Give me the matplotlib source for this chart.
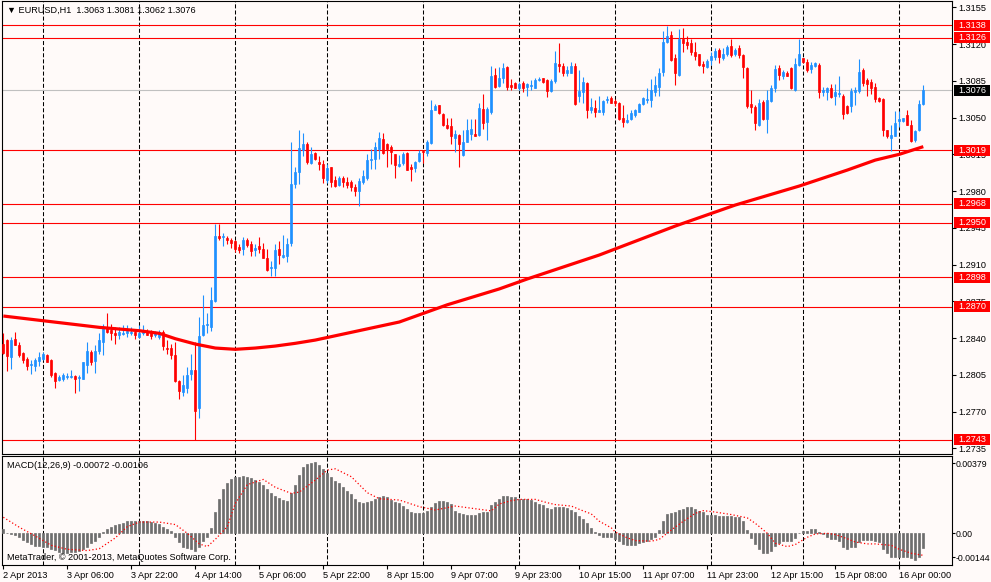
import numpy as np
import matplotlib
matplotlib.use("Agg")
import matplotlib.pyplot as plt
from matplotlib.patches import Rectangle
from matplotlib.transforms import blended_transform_factory

# EURUSD H1 candles, bar 0 = 2 Apr 14:00
opens = [
    1.2834, 1.2838, 1.2822, 1.2839, 1.2833, 1.2826, 1.2820, 1.2814, 1.2813, 1.2818,
    1.2820, 1.2824, 1.2819, 1.2807, 1.2800, 1.2801, 1.2803, 1.2803, 1.2804, 1.2802,
    1.2801, 1.2814, 1.2827, 1.2818, 1.2828, 1.2836, 1.2850, 1.2848, 1.2845, 1.2843,
    1.2844, 1.2845, 1.2845, 1.2846, 1.2841, 1.2845, 1.2846, 1.2846, 1.2843, 1.2841,
    1.2846, 1.2831, 1.2831, 1.2824, 1.2799, 1.2789, 1.2792, 1.2806, 1.2810, 1.2773,
    1.2843, 1.2852, 1.2851, 1.2875, 1.2937, 1.2936, 1.2935, 1.2933, 1.2932, 1.2927,
    1.2925, 1.2933, 1.2930, 1.2924, 1.2928, 1.2925, 1.2916, 1.2907, 1.2907, 1.2925,
    1.2917, 1.2918, 1.2931, 1.2987, 1.2998, 1.3019, 1.3025, 1.3007, 1.3016, 1.3008,
    1.3006, 1.2991, 1.3003, 1.2991, 1.2986, 1.2992, 1.2989, 1.2989, 1.2984, 1.2980,
    1.2989, 1.2992, 1.3010, 1.3011, 1.3020, 1.3030, 1.3025, 1.3022, 1.3015, 1.3004,
    1.3007, 1.3016, 1.3003, 1.3002, 1.3009, 1.3018, 1.3016, 1.3026, 1.3057, 1.3062,
    1.3053, 1.3043, 1.3042, 1.3031, 1.3033, 1.3014, 1.3027, 1.3034, 1.3034, 1.3033,
    1.3058, 1.3046, 1.3055, 1.3091, 1.3080, 1.3088, 1.3098, 1.3081, 1.3083, 1.3078,
    1.3083, 1.3079, 1.3080, 1.3078, 1.3086, 1.3088, 1.3086, 1.3075, 1.3085, 1.3101,
    1.3099, 1.3092, 1.3092, 1.3099, 1.3071, 1.3074, 1.3083, 1.3057, 1.3059, 1.3055,
    1.3055, 1.3067, 1.3069, 1.3066, 1.3064, 1.3050, 1.3046, 1.3049, 1.3052, 1.3055,
    1.3063, 1.3067, 1.3067, 1.3074, 1.3079, 1.3093, 1.3122, 1.3129, 1.3107, 1.3091,
    1.3125, 1.3122, 1.3121, 1.3112, 1.3111, 1.3101, 1.3098, 1.3105, 1.3108, 1.3114,
    1.3107, 1.3111, 1.3118, 1.3111, 1.3116, 1.3110, 1.3097, 1.3063, 1.3060, 1.3043,
    1.3065, 1.3049, 1.3066, 1.3078, 1.3097, 1.3090, 1.3092, 1.3097, 1.3076, 1.3100,
    1.3107, 1.3103, 1.3096, 1.3099, 1.3100, 1.3074, 1.3074, 1.3078, 1.3071, 1.3072,
    1.3071, 1.3061, 1.3061, 1.3074, 1.3075, 1.3095, 1.3086, 1.3084, 1.3079, 1.3069,
    1.3068, 1.3038, 1.3031, 1.3032, 1.3047, 1.3047, 1.3052, 1.3043, 1.3029, 1.3038,
    1.3063,
]
highs = [
    1.2845, 1.2839, 1.2841, 1.2846, 1.2836, 1.2827, 1.2822, 1.2819, 1.2821, 1.2827,
    1.2827, 1.2825, 1.2820, 1.2808, 1.2805, 1.2807, 1.2807, 1.2810, 1.2805, 1.2805,
    1.2817, 1.2836, 1.2829, 1.2833, 1.2845, 1.2853, 1.2864, 1.2853, 1.2851, 1.2851,
    1.2852, 1.2852, 1.2851, 1.2849, 1.2852, 1.2852, 1.2849, 1.2848, 1.2847, 1.2848,
    1.2848, 1.2838, 1.2834, 1.2836, 1.2800, 1.2805, 1.2812, 1.2825, 1.2836, 1.2860,
    1.2881, 1.2864, 1.2889, 1.2949, 1.2949, 1.2940, 1.2937, 1.2935, 1.2933, 1.2930,
    1.2936, 1.2935, 1.2932, 1.2930, 1.2936, 1.2931, 1.2925, 1.2913, 1.2930, 1.2932,
    1.2938, 1.2935, 1.3027, 1.3003, 1.3038, 1.3035, 1.3027, 1.3022, 1.3017, 1.3013,
    1.3010, 1.3006, 1.3003, 1.2994, 1.2994, 1.2994, 1.2993, 1.2991, 1.2987, 1.2992,
    1.3000, 1.3015, 1.3020, 1.3027, 1.3036, 1.3035, 1.3026, 1.3024, 1.3015, 1.3014,
    1.3017, 1.3017, 1.3006, 1.3009, 1.3019, 1.3019, 1.3029, 1.3067, 1.3063, 1.3062,
    1.3054, 1.3050, 1.3050, 1.3038, 1.3034, 1.3038, 1.3049, 1.3049, 1.3049, 1.3064,
    1.3072, 1.3060, 1.3099, 1.3097, 1.3098, 1.3102, 1.3099, 1.3087, 1.3084, 1.3084,
    1.3085, 1.3083, 1.3086, 1.3088, 1.3089, 1.3088, 1.3087, 1.3087, 1.3113, 1.3121,
    1.3102, 1.3099, 1.3103, 1.3102, 1.3095, 1.3089, 1.3084, 1.3069, 1.3067, 1.3071,
    1.3067, 1.3071, 1.3071, 1.3068, 1.3065, 1.3062, 1.3053, 1.3057, 1.3058, 1.3064,
    1.3070, 1.3078, 1.3087, 1.3090, 1.3097, 1.3132, 1.3137, 1.3132, 1.3111, 1.3134,
    1.3135, 1.3128, 1.3125, 1.3122, 1.3111, 1.3104, 1.3106, 1.3112, 1.3116, 1.3116,
    1.3116, 1.3119, 1.3125, 1.3116, 1.3119, 1.3111, 1.3098, 1.3076, 1.3062, 1.3068,
    1.3067, 1.3076, 1.3081, 1.3100, 1.3100, 1.3095, 1.3094, 1.3098, 1.3107, 1.3125,
    1.3107, 1.3106, 1.3103, 1.3103, 1.3102, 1.3079, 1.3079, 1.3082, 1.3082, 1.3090,
    1.3072, 1.3062, 1.3078, 1.3079, 1.3106, 1.3097, 1.3088, 1.3087, 1.3083, 1.3070,
    1.3069, 1.3038, 1.3043, 1.3056, 1.3056, 1.3050, 1.3057, 1.3048, 1.3038, 1.3067,
    1.3081,
]
lows = [
    1.2825, 1.2809, 1.2811, 1.2833, 1.2822, 1.2816, 1.2810, 1.2806, 1.2809, 1.2813,
    1.2819, 1.2817, 1.2803, 1.2792, 1.2799, 1.2799, 1.2801, 1.2802, 1.2788, 1.2790,
    1.2801, 1.2807, 1.2814, 1.2807, 1.2825, 1.2824, 1.2845, 1.2838, 1.2834, 1.2839,
    1.2843, 1.2841, 1.2843, 1.2839, 1.2840, 1.2843, 1.2843, 1.2839, 1.2841, 1.2839,
    1.2829, 1.2825, 1.2820, 1.2798, 1.2782, 1.2785, 1.2788, 1.2800, 1.2743, 1.2764,
    1.2842, 1.2845, 1.2847, 1.2874, 1.2933, 1.2928, 1.2930, 1.2926, 1.2922, 1.2921,
    1.2919, 1.2927, 1.2918, 1.2918, 1.2921, 1.2916, 1.2904, 1.2899, 1.2899, 1.2911,
    1.2916, 1.2912, 1.2928, 1.2983, 1.2987, 1.3013, 1.3006, 1.3006, 1.3010, 1.3000,
    1.2988, 1.2988, 1.2984, 1.2984, 1.2985, 1.2984, 1.2983, 1.2980, 1.2975, 1.2966,
    1.2987, 1.2991, 1.3001, 1.3001, 1.3011, 1.3015, 1.3003, 1.3006, 1.2992, 1.3003,
    1.3005, 1.3000, 1.2990, 1.2998, 1.3008, 1.3007, 1.3013, 1.3025, 1.3057, 1.3053,
    1.3042, 1.3039, 1.3025, 1.3017, 1.3003, 1.3013, 1.3027, 1.3029, 1.3032, 1.3032,
    1.3039, 1.3029, 1.3053, 1.3078, 1.3079, 1.3083, 1.3076, 1.3076, 1.3078, 1.3076,
    1.3074, 1.3071, 1.3076, 1.3078, 1.3085, 1.3083, 1.3070, 1.3074, 1.3083, 1.3093,
    1.3090, 1.3090, 1.3092, 1.3062, 1.3065, 1.3064, 1.3050, 1.3054, 1.3051, 1.3055,
    1.3052, 1.3064, 1.3064, 1.3061, 1.3048, 1.3041, 1.3045, 1.3048, 1.3051, 1.3055,
    1.3062, 1.3064, 1.3060, 1.3071, 1.3071, 1.3090, 1.3121, 1.3104, 1.3081, 1.3090,
    1.3112, 1.3115, 1.3110, 1.3105, 1.3099, 1.3092, 1.3097, 1.3100, 1.3105, 1.3102,
    1.3105, 1.3109, 1.3108, 1.3109, 1.3107, 1.3088, 1.3059, 1.3054, 1.3038, 1.3042,
    1.3048, 1.3035, 1.3065, 1.3074, 1.3086, 1.3087, 1.3090, 1.3077, 1.3075, 1.3099,
    1.3102, 1.3093, 1.3092, 1.3098, 1.3069, 1.3071, 1.3067, 1.3069, 1.3062, 1.3070,
    1.3049, 1.3053, 1.3055, 1.3062, 1.3073, 1.3080, 1.3071, 1.3072, 1.3065, 1.3065,
    1.3032, 1.3031, 1.3018, 1.3032, 1.3041, 1.3046, 1.3043, 1.3027, 1.3027, 1.3037,
    1.3062,
]
closes = [
    1.2826, 1.2823, 1.2838, 1.2833, 1.2824, 1.2819, 1.2813, 1.2815, 1.2819, 1.2822,
    1.2825, 1.2817, 1.2805, 1.2799, 1.2803, 1.2805, 1.2804, 1.2804, 1.2801, 1.2803,
    1.2817, 1.2828, 1.2817, 1.2828, 1.2838, 1.2850, 1.2846, 1.2845, 1.2843, 1.2846,
    1.2845, 1.2847, 1.2846, 1.2843, 1.2845, 1.2848, 1.2843, 1.2842, 1.2846, 1.2846,
    1.2832, 1.2830, 1.2824, 1.2799, 1.2790, 1.2795, 1.2805, 1.2810, 1.2771, 1.2842,
    1.2852, 1.2853, 1.2876, 1.2937, 1.2935, 1.2937, 1.2933, 1.2931, 1.2925, 1.2924,
    1.2933, 1.2929, 1.2923, 1.2926, 1.2925, 1.2916, 1.2905, 1.2908, 1.2924, 1.2919,
    1.2919, 1.2930, 1.2987, 1.2998, 1.3021, 1.3025, 1.3008, 1.3015, 1.3011, 1.3006,
    1.2992, 1.3002, 1.2989, 1.2985, 1.2992, 1.2989, 1.2986, 1.2984, 1.2980, 1.2990,
    1.2994, 1.3010, 1.3011, 1.3022, 1.3031, 1.3016, 1.3020, 1.3017, 1.3005, 1.3006,
    1.3015, 1.3000, 1.3001, 1.3008, 1.3016, 1.3017, 1.3027, 1.3057, 1.3061, 1.3054,
    1.3043, 1.3040, 1.3032, 1.3034, 1.3025, 1.3027, 1.3038, 1.3039, 1.3032, 1.3059,
    1.3045, 1.3058, 1.3090, 1.3079, 1.3088, 1.3097, 1.3079, 1.3079, 1.3078, 1.3082,
    1.3078, 1.3082, 1.3081, 1.3086, 1.3087, 1.3084, 1.3075, 1.3085, 1.3102, 1.3099,
    1.3092, 1.3095, 1.3099, 1.3063, 1.3075, 1.3084, 1.3057, 1.3060, 1.3055, 1.3057,
    1.3066, 1.3068, 1.3064, 1.3064, 1.3049, 1.3046, 1.3048, 1.3054, 1.3057, 1.3063,
    1.3069, 1.3068, 1.3076, 1.3081, 1.3092, 1.3122, 1.3128, 1.3105, 1.3092, 1.3125,
    1.3121, 1.3119, 1.3112, 1.3109, 1.3100, 1.3099, 1.3104, 1.3109, 1.3113, 1.3108,
    1.3111, 1.3117, 1.3110, 1.3114, 1.3110, 1.3098, 1.3061, 1.3060, 1.3045, 1.3064,
    1.3049, 1.3067, 1.3078, 1.3096, 1.3091, 1.3093, 1.3090, 1.3078, 1.3101, 1.3111,
    1.3103, 1.3095, 1.3100, 1.3102, 1.3074, 1.3076, 1.3078, 1.3070, 1.3074, 1.3073,
    1.3053, 1.3054, 1.3075, 1.3076, 1.3093, 1.3083, 1.3082, 1.3078, 1.3068, 1.3066,
    1.3038, 1.3032, 1.3033, 1.3045, 1.3049, 1.3050, 1.3043, 1.3028, 1.3037, 1.3063,
    1.3076,
]

# moving average (thick red line), read at some bars
ma_bars = [0, 10, 24, 34, 39, 43, 48, 53, 58, 63, 68, 73, 78, 99, 111, 124, 131,
           149, 168, 183, 199, 211, 218, 224, 230]
ma_vals = [1.28610, 1.28565, 1.28502, 1.28470, 1.28445, 1.28394, 1.28343, 1.28305,
           1.28293, 1.28305, 1.28324, 1.28350, 1.28381, 1.28553, 1.28717, 1.28868,
           1.28963, 1.29191, 1.29467, 1.29667, 1.29848, 1.30000, 1.30095, 1.30150,
           1.30223]

# MACD(12,26,9) histogram, in units of 1e-5
macd_e5 = [
    19, 0, -3, -10, -19, -32, -42, -51, -61, -61,
    -64, -67, -74, -80, -90, -93, -93, -90, -90, -83,
    -77, -64, -48, -35, -19, 6, 22, 29, 38, 45,
    51, 58, 61, 61, 61, 58, 58, 54, 51, 45,
    32, 22, 10, -19, -42, -64, -70, -77, -83, -64,
    -38, -19, 26, 102, 166, 211, 240, 259, 269, 272,
    275, 272, 266, 256, 246, 234, 211, 192, 179, 170,
    160, 154, 192, 234, 282, 317, 333, 339, 342, 330,
    307, 291, 272, 253, 240, 221, 205, 189, 163, 150,
    144, 150, 154, 166, 176, 179, 173, 160, 150, 144,
    131, 115, 102, 96, 96, 96, 109, 125, 144, 157,
    157, 150, 141, 109, 99, 93, 90, 86, 86, 99,
    102, 102, 138, 150, 166, 179, 179, 176, 173, 166,
    163, 163, 160, 150, 141, 138, 122, 118, 128, 128,
    125, 122, 112, 102, 83, 70, 48, 26, 6, -10,
    -16, -16, -19, -26, -35, -51, -58, -58, -58, -48,
    -42, -35, -26, -16, 16, 58, 93, 96, 102, 112,
    118, 128, 125, 118, 109, 102, 90, 86, 86, 83,
    83, 83, 83, 80, 77, 58, 16, -22, -51, -74,
    -93, -96, -83, -61, -45, -38, -38, -35, -22, 3,
    10, 13, 19, 19, 6, -3, -16, -26, -29, -38,
    -64, -74, -67, -64, -42, -32, -32, -32, -35, -42,
    -74, -96, -112, -115, -115, -115, -112, -118, -128, -112,
    -72,
]
# signal line (red dots), in units of 1e-5
sig_bars = [0, 4, 8, 12, 16, 21, 24, 28, 31, 34, 39, 43, 46, 49, 51, 53, 56, 58,
            61, 65, 68, 72, 74, 78, 81, 83, 87, 91, 94, 99, 104, 108, 113, 118,
            122, 124, 127, 129, 133, 136, 138, 142, 144, 147, 149, 152, 153, 156,
            158, 162, 164, 167, 170, 173, 175, 178, 182, 186, 188, 191, 193, 196,
            198, 201, 203, 206, 208, 211, 213, 216, 218, 222, 224, 227, 230]
sig_e5 = [77, 29, -13, -58, -77, -83, -74, -22, 32, 54, 54, 42, 0, -51, -64, -29,
          32, 144, 234, 259, 221, 192, 198, 256, 304, 310, 272, 195, 166, 160, 128,
          112, 131, 118, 108, 141, 157, 163, 163, 147, 138, 131, 115, 93, 58, 26, 6,
          -22, -35, -38, -29, 16, 58, 96, 109, 102, 90, 74, 48, 0, -48, -64, -54,
          -19, -3, 0, -6, -26, -42, -51, -51, -58, -77, -96, -106]

levels = [1.3138, 1.3126, 1.3019, 1.2968, 1.2950, 1.2898, 1.2870, 1.2743]
last_price = 1.3076
price_ticks = [1.3155, 1.3120, 1.3085, 1.3050, 1.3015, 1.2980, 1.2945, 1.2910,
               1.2875, 1.2840, 1.2805, 1.2770, 1.2735]
day_bars = [10, 34, 58, 81, 105, 129, 153, 177, 200, 224]
label_bars = [0, 16, 32, 48, 64, 80, 96, 112, 128, 144, 160, 176, 192, 208, 224]
label_text = ["2 Apr 2013", "3 Apr 06:00", "3 Apr 22:00", "4 Apr 14:00",
              "5 Apr 06:00", "5 Apr 22:00", "8 Apr 15:00", "9 Apr 07:00",
              "9 Apr 23:00", "10 Apr 15:00", "11 Apr 07:00", "11 Apr 23:00",
              "12 Apr 15:00", "15 Apr 08:00", "16 Apr 00:00"]
macd_max, macd_min = 0.00379, -0.00144

plt.rcParams['font.family'] = ['Liberation Sans', 'DejaVu Sans']
plt.rcParams['font.size'] = 6.6
plt.rcParams['lines.scale_dashes'] = False

bg = '#fffaf9'
W, H = 991, 582
fig = plt.figure(figsize=(W / 100, H / 100), dpi=100, facecolor=bg)
ax1 = fig.add_axes([2 / W, 1 - 454 / H, 949.5 / W, 453 / H])
ax2 = fig.add_axes([2 / W, 1 - 564.5 / H, 949.5 / W, 109 / H])

o = np.array(opens)
h = np.array(highs)
l = np.array(lows)
c = np.array(closes)
x = np.arange(len(o))
up = c >= o
col = np.where(up, '#1e90ff', '#ff0000')

for ax in (ax1, ax2):
    ax.set_facecolor(bg)
    ax.set_xlim(-0.33, 237.05)
    for s in ax.spines.values():
        s.set_linewidth(0.8)
        s.set_color('black')
    for d in day_bars:
        ax.axvline(d, color='black', lw=0.75, ls=(0, (2.9, 1.5)), zorder=1)

# price panel
ax1.set_ylim(1.27296, 1.31610)
for lv in levels:
    ax1.axhline(lv, color='#ff0000', lw=0.8, zorder=2)
ax1.axhline(last_price, color='#c0c0c0', lw=0.8, zorder=2)

ax1.vlines(x, l, h, colors=col, lw=0.8, zorder=3)
ax1.bar(x, np.abs(c - o), bottom=np.minimum(o, c), width=0.55, color=col,
        edgecolor=col, linewidth=0.5, zorder=4)
ax1.plot(ma_bars, ma_vals, color='#ff0000', lw=2.3, solid_capstyle='butt', zorder=5)

ax1.set_xticks([])
ax1.yaxis.tick_right()
ax1.set_yticks(price_ticks)
ax1.set_yticklabels([f"{t:.4f}" for t in price_ticks])
ax1.tick_params(axis='y', length=3, width=0.8, pad=2, direction='out', labelsize=6.6)

tr = blended_transform_factory(ax1.transAxes, ax1.transData)
box_h = 11 / 10500
for lv, fc in [(v, '#ff0000') for v in levels] + [(last_price, 'black')]:
    ax1.add_patch(Rectangle((952 / 949.5, lv - box_h / 2), 36 / 949.5, box_h,
                            transform=tr, facecolor=fc, edgecolor='none',
                            clip_on=False, zorder=10))
    ax1.text(970.5 / 949.5, lv, f"{lv:.4f}", transform=tr, color='white',
             ha='center', va='center', fontsize=6.6, clip_on=False, zorder=11)

ax1.text(0.0053, 0.980, "\u25bc EURUSD,H1  1.3063 1.3081 1.3062 1.3076",
         transform=ax1.transAxes, ha='left', va='center', fontsize=6.6)

# MACD panel
macd = np.array(macd_e5) * 1e-5
sig = np.array(sig_e5) * 1e-5
ax2.set_ylim(macd_min - 0.00006, macd_max - 0.00005)
ax2.bar(x, macd, width=0.55, color='#6e6e6e', edgecolor='#6e6e6e',
        linewidth=0.5, zorder=3)
ax2.plot(sig_bars, sig, color='#ff0000', lw=0.9, ls=(0, (0.9, 1.6)), zorder=4)

lo, hi = ax2.get_ylim()
ax2.yaxis.tick_right()
ax2.set_yticks([lo + (hi - lo) * 0.93, 0, lo + (hi - lo) * 0.065])
ax2.set_yticklabels([f"{macd_max:.5f}", "0.00", f"{macd_min:.5f}"])
ax2.tick_params(axis='y', length=2.5, width=0.8, pad=0.8, direction='out', labelsize=6.3)

ax2.set_xticks(label_bars)
ax2.set_xticklabels(label_text)
ax2.tick_params(axis='x', length=3, width=0.8, pad=2, direction='out', labelsize=6.6)
for t in ax2.get_xticklabels():
    t.set_ha('left')

ax2.text(0.005, 0.906, "MACD(12,26,9) -0.00072 -0.00106", transform=ax2.transAxes,
         ha='left', va='center', fontsize=6.6)
ax2.text(0.005, 0.066, "MetaTrader, \u00a9 2001-2013, MetaQuotes Software Corp.",
         transform=ax2.transAxes, ha='left', va='center', fontsize=6.6, zorder=6)

fig.savefig("out.png", dpi=100, facecolor=bg)
